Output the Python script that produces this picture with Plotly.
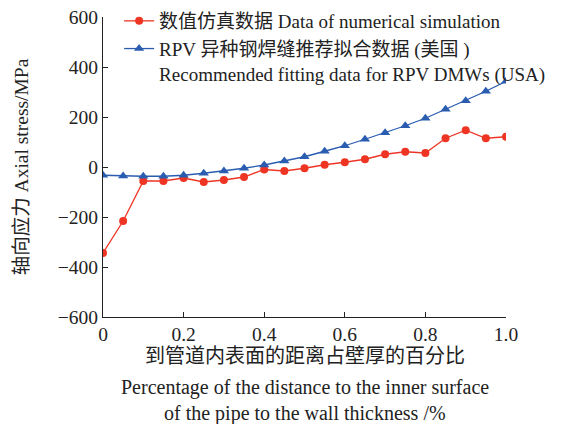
import plotly.graph_objects as go

x_vals = [0, 0.05, 0.1, 0.15, 0.2, 0.25, 0.3, 0.35, 0.4, 0.45, 0.5,
          0.55, 0.6, 0.65, 0.7, 0.75, 0.8, 0.85, 0.9, 0.95, 1.0]
sim_vals = [-344, -216, -56, -56, -44, -60, -52, -40, -10, -16, -5,
            9, 19, 31, 51, 61, 56, 115, 147, 115, 121]
rpv_vals = [-33, -36, -37, -37, -33, -25, -16, -5, 8, 24, 41,
            63, 85, 111, 137, 165, 195, 231, 265, 303, 343]

name_sim = "数值仿真数据 Data of numerical simulation"
name_rpv = "RPV 异种钢焊缝推荐拟合数据 (美国 )<br>Recommended fitting data for RPV DMWs (USA)"
y_title = "轴向应力 Axial stress/MPa"
x_title_lines = ["到管道内表面的距离占壁厚的百分比",
                 "Percentage of the distance to the inner surface",
                 "of the pipe to the wall thickness /%"]
x_ticks = [0, 0.2, 0.4, 0.6, 0.8, 1.0]
x_ticklabels = ["0", "0.2", "0.4", "0.6", "0.8", "1.0"]
y_ticks = [-600, -400, -200, 0, 200, 400, 600]
y_ticklabels = ["−600", "−400", "−200", "0", "200", "400", "600"]

FONT = "Liberation Serif, Noto Sans CJK SC, serif"
RED = "#EE3524"
BLUE = "#2A5CB0"
TXT = "#222222"

fig = go.Figure()
fig.add_trace(go.Scatter(x=x_vals, y=sim_vals, name=name_sim, mode="lines+markers",
                         line=dict(color=RED, width=1.3),
                         marker=dict(symbol="circle", size=8, color=RED)))
fig.add_trace(go.Scatter(x=x_vals, y=rpv_vals, name=name_rpv, mode="lines+markers",
                         line=dict(color=BLUE, width=1.3),
                         marker=dict(symbol="triangle-up", size=9, color=BLUE)))

tickfont = dict(family=FONT, size=19.5, color=TXT)

# page body has an 8px margin; figure is sized/offset to compensate
fig.update_layout(
    width=562, height=416,
    margin=dict(l=95, r=64, t=9, b=107, autoexpand=False),
    paper_bgcolor="white", plot_bgcolor="white",
    font=dict(family=FONT, size=20, color=TXT),
    showlegend=True,
    legend=dict(x=0.04, y=1.05, xanchor="left", yanchor="top",
                bgcolor="rgba(0,0,0,0)", font=dict(size=19, family=FONT, color=TXT),
                valign="top", tracegroupgap=0, itemwidth=30),
    xaxis=dict(range=[0, 1.0], tickvals=x_ticks, ticktext=x_ticklabels,
               showgrid=False, zeroline=False, showline=True, linecolor="#222",
               linewidth=1, ticks="inside", ticklen=5, tickcolor="#222",
               tickfont=tickfont, automargin=False, ticklabeloverflow="allow"),
    yaxis=dict(range=[-600, 600], tickvals=y_ticks, ticktext=y_ticklabels,
               showgrid=False, zeroline=False, showline=True, linecolor="#222",
               linewidth=1, ticks="inside", ticklen=5, tickcolor="#222",
               tickfont=tickfont, automargin=False, ticklabeloverflow="allow",
               title=dict(text=y_title, font=dict(size=19.5, family=FONT, color=TXT),
                          standoff=24)),
)

for txt, yp in zip(x_title_lines, [356, 387, 413]):
    fig.add_annotation(text=txt, xref="paper", yref="paper", x=0.5,
                       y=1 - (yp - 17) / 300,
                       xanchor="center", yanchor="middle", showarrow=False,
                       font=dict(size=20, family=FONT, color=TXT))

fig.write_html("out.html")
